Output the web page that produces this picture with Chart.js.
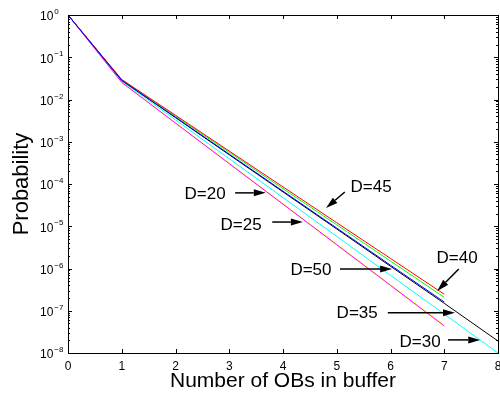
<!DOCTYPE html>
<html>
<head>
<meta charset="utf-8">
<script src="https://cdn.jsdelivr.net/npm/chart.js@4.4.0/dist/chart.umd.min.js"></script>
<style>
  html, body { margin: 0; padding: 0; background: #fff; overflow: hidden; }
  #myChart { display: block; width: 500px; height: 394px; }
</style>
</head>
<body>
<canvas id="myChart" width="500" height="394"></canvas>
<script>
'use strict';
var FONT = "'Liberation Sans', Arial, sans-serif";

// x positions (number of OBs in buffer)
var xVals = [0, 1, 2, 3, 4, 5, 6, 7, 8];
// probability per D value
var d20 = [1, 2.56e-2, 2.8e-3, 3.1e-4, 3.4e-5, 3.75e-6, 4.1e-7, 4.5e-8];
var d25 = [1, 2.53e-2, 2.76e-3, 3.03e-4, 3.33e-5, 3.64e-6, 3.98e-7, 4.36e-8];
var d30 = [1, 2.74e-2, 3.29e-3, 3.97e-4, 4.77e-5, 5.75e-6, 6.9e-7, 8.33e-8, 1.0e-8];
var d35 = [1, 2.82e-2, 3.73e-3, 4.91e-4, 6.5e-5, 8.61e-6, 1.13e-6, 1.5e-7, 1.92e-8];
var d40 = [1, 2.90e-2, 4.02e-3, 5.6e-4, 7.74e-5, 1.08e-5, 1.5e-6, 2.08e-7];
var d45 = [1, 2.97e-2, 4.23e-3, 6.01e-4, 8.54e-5, 1.21e-5, 1.73e-6, 2.45e-7];
var d50 = [1, 2.85e-2, 3.79e-3, 5.07e-4, 6.76e-5, 9.04e-6, 1.2e-6, 1.61e-7];

// y tick exponents (10^e)
var yTickExps = [0, -1, -2, -3, -4, -5, -6, -7, -8];

// annotations: label, text pos [x, log10 y], arrow from / to [x, log10 y]
var annoText = ['D=20', 'D=25', 'D=45', 'D=50', 'D=40', 'D=35', 'D=30'];
var annoPos = [[2.55, -4.24], [3.22, -4.97], [5.64, -4.09], [4.52, -6.04], [7.24, -5.75], [5.38, -7.05], [6.55, -7.74]];
var arrowFrom = [[3.11, -4.21], [3.80, -4.90], [5.15, -4.19], [5.06, -6.01], [7.27, -6.01], [5.95, -7.05], [7.07, -7.69]];
var arrowTo = [[3.68, -4.21], [4.37, -4.90], [4.80, -4.57], [6.03, -6.01], [6.87, -6.53], [7.20, -7.05], [7.67, -7.69]];

function pts(arr) {
    return arr.map(function (v, i) { return { x: xVals[i], y: v }; });
}

function mkSet(name, arr, color) {
    return {
        label: name,
        data: pts(arr),
        borderColor: color,
        backgroundColor: color,
        borderWidth: 1,
        pointRadius: 0,
        tension: 0,
        fill: false
    };
}

// draws box, inward ticks, log tick labels and the D= arrows
var axisDecor = {
    id: 'axisDecor',
    afterDraw: function (chart) {
        var ctx = chart.ctx;
        var a = chart.chartArea;
        var xs = chart.scales.x;
        var ys = chart.scales.y;
        ctx.save();
        ctx.strokeStyle = '#000';
        ctx.lineWidth = 1;
        ctx.beginPath();
        for (var i = 0; i < xVals.length; i++) {
            var px = Math.round(xs.getPixelForValue(xVals[i])) + 0.5;
            ctx.moveTo(px, a.bottom); ctx.lineTo(px, a.bottom - 4);
            ctx.moveTo(px, a.top); ctx.lineTo(px, a.top + 4);
        }
        for (var k = 0; k < yTickExps.length; k++) {
            var e = yTickExps[k];
            var py = Math.round(ys.getPixelForValue(Math.pow(10, e))) + 0.5;
            ctx.moveTo(a.left, py); ctx.lineTo(a.left + 4, py);
            ctx.moveTo(a.right, py); ctx.lineTo(a.right - 4, py);
            if (e < 0) {
                for (var m = 2; m <= 9; m++) {
                    var pm = Math.round(ys.getPixelForValue(m * Math.pow(10, e))) + 0.5;
                    ctx.moveTo(a.left, pm); ctx.lineTo(a.left + 2, pm);
                    ctx.moveTo(a.right, pm); ctx.lineTo(a.right - 2, pm);
                }
            }
        }
        ctx.stroke();
        ctx.strokeRect(Math.round(a.left) + 0.5, Math.round(a.top) + 0.5,
            Math.round(a.right - a.left), Math.round(a.bottom - a.top));

        // y tick labels 10^e
        ctx.fillStyle = '#000';
        ctx.textBaseline = 'middle';
        ctx.textAlign = 'left';
        for (var j = 0; j < yTickExps.length; j++) {
            var ex = yTickExps[j];
            var ty = ys.getPixelForValue(Math.pow(10, ex));
            ctx.font = '12px ' + FONT;
            ctx.fillText('10', 40, ty + 2);
            var w = ctx.measureText('10').width;
            ctx.font = '8px ' + FONT;
            ctx.fillText(ex === 0 ? '0' : '\u2212' + (-ex), 40 + w + 1, ty - 3);
        }

        // annotations
        ctx.font = '17px ' + FONT;
        ctx.textAlign = 'center';
        for (var n = 0; n < annoText.length; n++) {
            ctx.fillText(annoText[n], xs.getPixelForValue(annoPos[n][0]),
                ys.getPixelForValue(Math.pow(10, annoPos[n][1])));
            var x1 = xs.getPixelForValue(arrowFrom[n][0]);
            var y1 = ys.getPixelForValue(Math.pow(10, arrowFrom[n][1]));
            var x2 = xs.getPixelForValue(arrowTo[n][0]);
            var y2 = ys.getPixelForValue(Math.pow(10, arrowTo[n][1]));
            var ang = Math.atan2(y2 - y1, x2 - x1);
            var hl = 12, hw = 3.5;
            var bx = x2 - hl * Math.cos(ang), by = y2 - hl * Math.sin(ang);
            ctx.lineWidth = 1.5;
            ctx.beginPath();
            ctx.moveTo(x1, y1);
            ctx.lineTo(bx, by);
            ctx.stroke();
            ctx.beginPath();
            ctx.moveTo(x2, y2);
            ctx.lineTo(bx + hw * Math.sin(ang), by - hw * Math.cos(ang));
            ctx.lineTo(bx - hw * Math.sin(ang), by + hw * Math.cos(ang));
            ctx.closePath();
            ctx.fill();
        }
        ctx.restore();
    }
};

var ctx = document.getElementById('myChart').getContext('2d');
var chart = new Chart(ctx, {
    type: 'line',
    data: {
        datasets: [
            mkSet('D=50', d50, '#0000ff'),
            mkSet('D=25', d25, '#ff00ff'),
            mkSet('D=45', d45, '#ff0000'),
            mkSet('D=40', d40, '#00ff00'),
            mkSet('D=35', d35, '#000000'),
            mkSet('D=30', d30, '#00ffff'),
            mkSet('D=20', d20, '#ffff00')
        ]
    },
    options: {
        responsive: false,
        animation: false,
        layout: { padding: { top: 15, right: 2, left: 0, bottom: 0 } },
        plugins: {
            legend: { display: false },
            tooltip: { enabled: false }
        },
        scales: {
            x: {
                type: 'linear',
                min: 0,
                max: 8,
                grid: { display: false, drawTicks: false },
                border: { display: false },
                ticks: {
                    stepSize: 1,
                    padding: 6,
                    color: '#000',
                    maxRotation: 0,
                    font: { family: FONT, size: 12 }
                },
                title: {
                    display: true,
                    text: 'Number of OBs in buffer',
                    color: '#000',
                    padding: { top: 0, bottom: 0 },
                    font: { family: FONT, size: 21 }
                },
                afterFit: function (s) {
                    s.height = 41;
                    s.paddingLeft = 0;
                    s.paddingRight = 0;
                }
            },
            y: {
                type: 'logarithmic',
                min: 1e-8,
                max: 1,
                grid: { display: false, drawTicks: false },
                border: { display: false },
                ticks: { display: false },
                title: {
                    display: true,
                    text: 'Probability',
                    color: '#000',
                    padding: { top: 9, bottom: 0 },
                    font: { family: FONT, size: 22 }
                },
                afterFit: function (s) {
                    s.width = 68;
                    s.paddingTop = 0;
                    s.paddingBottom = 0;
                }
            }
        }
    },
    plugins: [axisDecor]
});
</script>
</body>
</html>
